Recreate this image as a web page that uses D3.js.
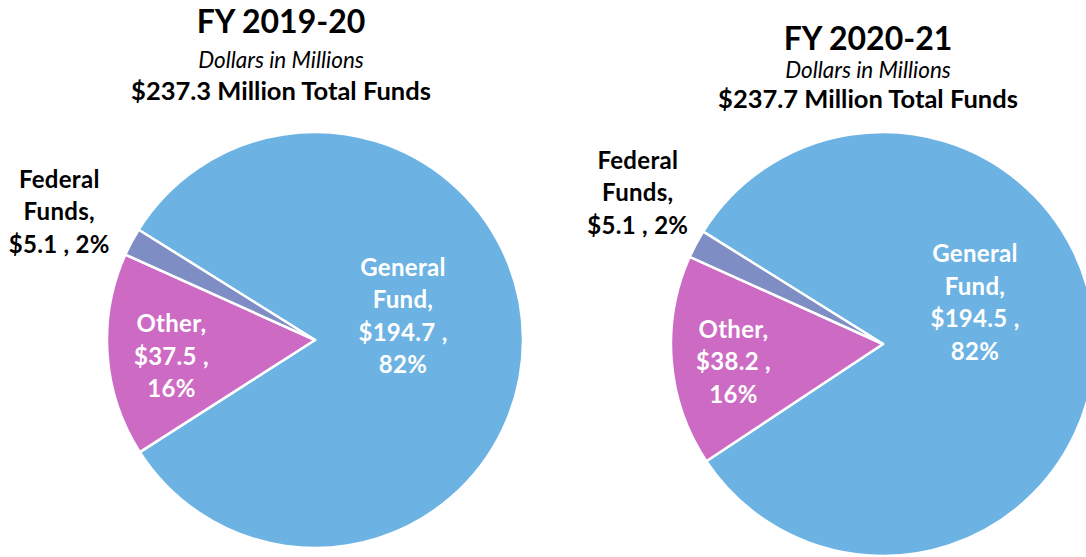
<!DOCTYPE html>
<html>
<head>
<meta charset="utf-8">
<script src="https://cdn.jsdelivr.net/npm/d3@7"></script>
<style>
  body { margin: 0; background: #fff; }
  svg { display: block; font-family: Lato, "Noto Sans", sans-serif; }
</style>
</head>
<body>
<svg class="chart" width="1086" height="557"></svg>
<script>
// data
var categories = ["General Fund", "Other", "Federal Funds"];
var labelLines = [["General", "Fund,"], ["Other,"], ["Federal", "Funds,"]];
var years = ["FY 2019-20", "FY 2020-21"];
var totals = [237.3, 237.7];
var values2019 = [194.7, 37.5, 5.1];
var values2020 = [194.5, 38.2, 5.1];

var colors = ["#6cb3e3", "#cd6bc4", "#7e8ec4"];

var svg = d3.select(".chart");

var z = d3.scaleOrdinal()
    .domain(categories)
    .range(colors);

// layout of each pie (center, radius, title placement, label placement)
var panels = [
  {values: values2019, cx: 315, cy: 340, r: 208, tx: 281, ty: [33, 68, 100],
   lab: [{r: 88, dx: 0, dy: -23}, {r: 144, dx: 0, dy: 6}, {r: 290, dx: 0, dy: 9}]},
  {values: values2020, cx: 883, cy: 344, r: 212, tx: 868, ty: [50, 78, 108],
   lab: [{r: 92, dx: 0, dy: -40}, {r: 150, dx: 0, dy: 6}, {r: 286, dx: 7, dy: -16}]}
];

var start = -58 * Math.PI / 180;

var pie = d3.pie()
    .sort(null)
    .startAngle(start)
    .endAngle(start + 2 * Math.PI)
    .value(function(d) { return d.value; });

var lineH = 32.5;

panels.forEach(function(p, k) {

  var data = p.values.map(function(v, i) { return {key: categories[i], value: v, i: i}; });
  var total = d3.sum(p.values);

  var g = svg.append("g")
      .attr("transform", "translate(" + p.cx + "," + p.cy + ")");

  var arc = d3.arc().innerRadius(0).outerRadius(p.r);

  g.selectAll(".slice")
    .data(pie(data))
    .enter().append("path")
      .attr("class", "slice")
      .attr("d", arc)
      .attr("fill", function(d) { return z(d.data.key); })
      .attr("stroke", "#fff")
      .attr("stroke-width", 2.5)
      .attr("stroke-linejoin", "round");

  // data labels
  var lbl = g.selectAll(".lbl")
    .data(pie(data))
    .enter().append("text")
      .attr("class", "lbl")
      .attr("text-anchor", "middle")
      .style("font-weight", "bold")
      .style("font-size", "24px")
      .style("letter-spacing", "0.3px")
      .attr("fill", function(d) { return d.data.i == 2 ? "#000" : "#fff"; })
      .each(function(d) {
        var L = p.lab[d.data.i];
        var c = d3.arc().innerRadius(L.r).outerRadius(L.r).centroid(d);
        var pct = Math.round(d.data.value / total * 100) + "%";
        var lines = labelLines[d.data.i].slice();
        if (d.data.i == 2) lines.push("$" + d.data.value.toFixed(1) + " , " + pct);
        else { lines.push("$" + d.data.value.toFixed(1) + " ,"); lines.push(pct); }
        var y0 = c[1] + L.dy - (lines.length - 1) * lineH / 2 + 8;
        var t = d3.select(this);
        lines.forEach(function(s, j) {
          t.append("tspan")
            .attr("x", c[0] + L.dx)
            .attr("y", y0 + j * lineH)
            .text(s);
        });
      });

  // titles
  var titles = [years[k], "Dollars in Millions", "$" + totals[k].toFixed(1) + " Million Total Funds"];
  svg.selectAll(".title" + k)
    .data(titles)
    .enter().append("text")
      .attr("class", "title" + k)
      .attr("x", p.tx)
      .attr("y", function(d, i) { return p.ty[i]; })
      .attr("text-anchor", "middle")
      .style("font-size", function(d, i) { return ["32px", "22.5px", "25.5px"][i]; })
      .style("font-weight", function(d, i) { return i == 1 ? "normal" : "bold"; })
      .style("font-style", function(d, i) { return i == 1 ? "italic" : "normal"; })
      .text(function(d) { return d; });
});
</script>
</body>
</html>
